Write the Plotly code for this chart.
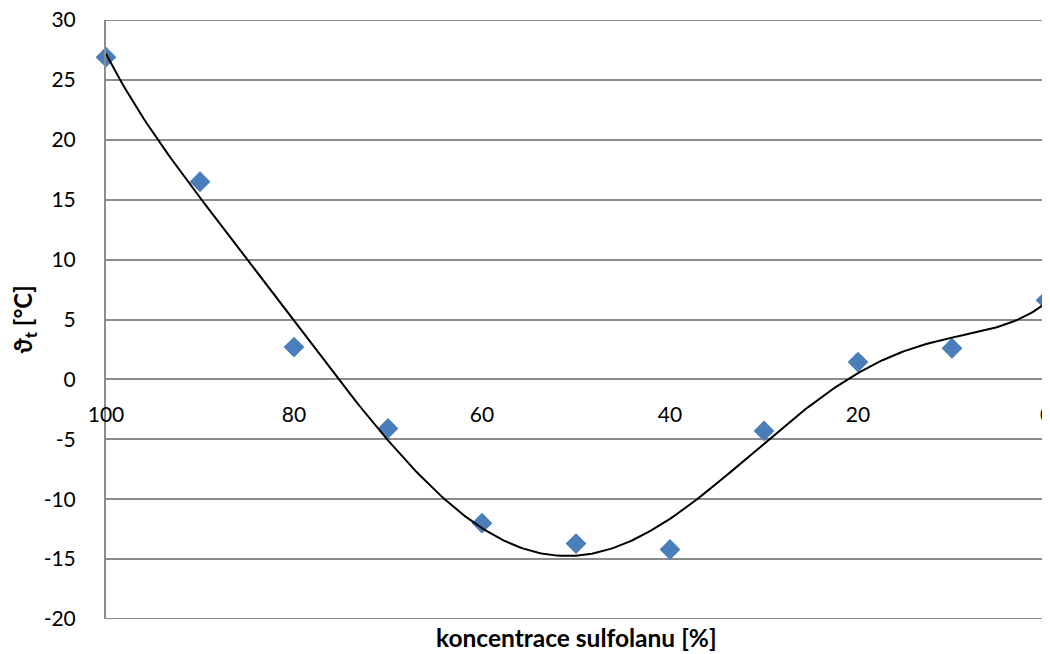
import numpy as np
import plotly.graph_objects as go

concentration = [100, 90, 80, 70, 60, 50, 40, 30, 20, 10, 0]
temperature = [26.9, 16.5, 2.7, -4.1, -12.0, -13.7, -14.2, -4.3, 1.45, 2.6, 6.6]
x_ticks = [100, 80, 60, 40, 20, 0]
y_ticks = [-20, -15, -10, -5, 0, 5, 10, 15, 20, 25, 30]
y_ticktext = ["-20", "-15", "-10", "-5", "0", "5", "10", "15", "20", "25", "30"]
y_min, y_max = -20, 30
trend_degree = 6

coef = np.polyfit(concentration, temperature, trend_degree)
xs = np.linspace(100, 0, 301)
ys = np.polyval(coef, xs)

FONT = "Lato"
GRID = "#8c8c8c"
OFF = 8  # page body margin offset

fig = go.Figure()
fig.add_trace(go.Scatter(x=concentration, y=temperature, mode="markers",
                         marker=dict(symbol="diamond", size=16, color="#4a7ebb"),
                         showlegend=False, cliponaxis=False))
fig.add_trace(go.Scatter(x=xs, y=ys, mode="lines",
                         line=dict(color="black", width=2), showlegend=False))

# edge gridlines (plotly omits gridlines lying on the plot-area border)
for yv in (y_min, y_max):
    fig.add_shape(type="line", xref="paper", yref="y", x0=0, x1=1, y0=yv, y1=yv,
                  line=dict(color=GRID, width=2), layer="below")

fig.update_layout(
    width=1050 - OFF, height=654 - OFF,
    margin=dict(l=106 - OFF, r=4, t=20 - OFF, b=35, autoexpand=False),
    paper_bgcolor="white", plot_bgcolor="white",
    font=dict(family=FONT, size=21, color="black"),
    xaxis=dict(range=[100, 0], tickvals=x_ticks, showgrid=False, zeroline=False,
               showline=False, anchor="free", position=0.4, ticks="",
               ticklabelstandoff=21, tickfont=dict(size=21), ticklabeloverflow="allow",
               automargin=False),
    yaxis=dict(range=[y_min, y_max], tickvals=y_ticks, ticktext=y_ticktext,
               showgrid=True, gridcolor=GRID,
               gridwidth=2, zeroline=False, showline=True, linecolor=GRID, linewidth=2,
               ticks="", ticklabelstandoff=24, tickfont=dict(size=21),
               ticklabeloverflow="allow", automargin=False,
               title=dict(text="<b>ϑ<sub>t</sub> [°C]</b>", font=dict(size=24), standoff=10)),
    annotations=[dict(text="<b>koncentrace sulfolanu [%]</b>", xref="paper", yref="paper",
                      x=0.5, y=-0.003, xanchor="center", yanchor="top", showarrow=False,
                      font=dict(size=24.5))],
)

fig.write_html("out.html")
